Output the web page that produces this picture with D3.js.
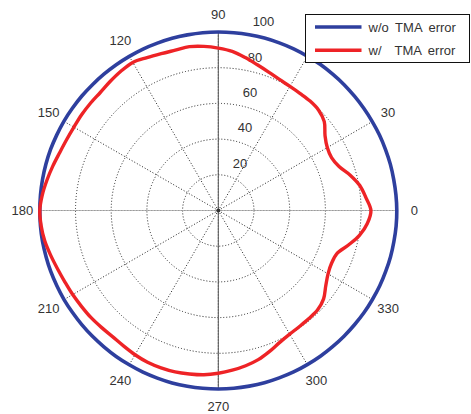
<!DOCTYPE html>
<html>
<head>
<meta charset="utf-8">
<script src="https://cdn.jsdelivr.net/npm/d3@7"></script>
<style>
body { margin: 0; background: #fff; }
text { font-family: "Liberation Sans", Arial, sans-serif; fill: #333; }
</style>
</head>
<body>
<div id="chart"></div>
<script>
// angles in degrees (counter-clockwise from east)
var angles = [0, 5, 10, 15, 20, 25, 30, 35, 40, 45, 50, 55, 60, 65, 70, 75, 80, 85,
    90, 95, 100, 105, 110, 115, 120, 125, 130, 135, 140, 145, 150, 155, 160, 165, 170, 175,
    180, 185, 190, 195, 200, 205, 210, 215, 220, 225, 230, 235, 240, 245, 250, 255, 260, 265,
    270, 275, 280, 285, 290, 295, 300, 305, 310, 315, 320, 325, 330, 335, 340, 345, 350, 355];

var withoutError = [100, 99.9, 99.8, 99.8, 99.7, 99.7, 99.6, 99.6, 99.6, 99.7, 99.7, 99.8, 99.8, 99.9, 99.9, 100, 100, 100,
    100, 100, 99.9, 99.9, 99.8, 99.8, 99.7, 99.7, 99.7, 99.7, 99.8, 99.8, 99.9, 99.9, 100, 100, 100, 100,
    100, 100, 100, 99.9, 99.9, 99.8, 99.8, 99.7, 99.7, 99.7, 99.7, 99.8, 99.8, 99.9, 99.9, 100, 100, 100,
    100, 100, 99.9, 99.9, 99.8, 99.8, 99.7, 99.7, 99.6, 99.6, 99.6, 99.7, 99.7, 99.8, 99.8, 99.9, 99.9, 100];

var withError = [85.5, 83, 80.5, 76.5, 72, 70, 70.5, 73, 77.5, 79.5, 80, 80, 80.3, 81, 82.5, 84.5, 87, 89.5,
    91, 92.3, 93.2, 93, 93.5, 94.5, 95.8, 95.2, 94.3, 93.5, 93.5, 93.5, 93.4, 93.8, 94.6, 96, 97.5, 99,
    100, 99.6, 98.7, 97.2, 95.8, 94.8, 94.2, 93.6, 93.2, 92.6, 92.2, 92.6, 93.3, 93.8, 93.8, 93.6, 93, 92.4,
    91.2, 89.8, 88.3, 86.5, 84, 81.5, 80, 79.3, 79, 78.7, 77, 73.5, 71, 70, 70.7, 75.3, 80.3, 83.8];

var ringTicks = [20, 40, 60, 80, 100];
var spokeAngles = [0, 30, 60, 90, 120, 150, 180, 210, 240, 270, 300, 330];
var seriesNames = ["w/o TMA error", "w/  TMA error"];
var seriesColors = ["#2e3f9e", "#ee2326"];

var width = 471, height = 414;
var cx = 218.3, cy = 210.5;

var r = d3.scaleLinear().domain([0, 100]).range([0, 178.5]);
var toRad = function (deg) { return deg * Math.PI / 180; };

var svg = d3.select("#chart")
    .append("svg")
    .attr("width", width)
    .attr("height", height);

var g = svg.append("g")
    .attr("transform", "translate(" + cx + "," + cy + ")");

// dotted rings
g.selectAll(".ring")
    .data(ringTicks.slice(0, 4))
    .enter()
    .append("circle")
    .attr("r", function (d) { return r(d); })
    .attr("fill", "none")
    .attr("stroke", "#222")
    .attr("stroke-width", 1)
    .attr("stroke-dasharray", "1,2");

g.append("circle")
    .attr("r", r(100))
    .attr("fill", "none")
    .attr("stroke", "#444")
    .attr("stroke-width", 1);

// spokes
g.selectAll(".spoke")
    .data(spokeAngles)
    .enter()
    .append("line")
    .attr("x1", 0).attr("y1", 0)
    .attr("x2", function (d) { return r(100) * Math.cos(toRad(d)); })
    .attr("y2", function (d) { return -r(100) * Math.sin(toRad(d)); })
    .attr("stroke", "#222")
    .attr("stroke-width", 1)
    .attr("stroke-dasharray", "1,2");

// solid axis lines
g.append("line")
    .attr("x1", -r(100)).attr("y1", 0).attr("x2", r(100)).attr("y2", 0)
    .attr("stroke", "#aaa").attr("stroke-width", 1.2).attr("opacity", 0.8);
g.append("line")
    .attr("x1", 0).attr("y1", -r(100)).attr("x2", 0).attr("y2", r(100))
    .attr("stroke", "#555").attr("stroke-width", 1);
g.append("circle").attr("r", 2).attr("fill", "#333");

// angle labels
g.selectAll(".alabel")
    .data(spokeAngles)
    .enter()
    .append("text")
    .attr("x", function (d) { return 196 * Math.cos(toRad(d)); })
    .attr("y", function (d) { return -196 * Math.sin(toRad(d)) + 4.5; })
    .attr("text-anchor", "middle")
    .attr("font-size", 13)
    .text(function (d) { return d; });

// radial labels along 82 degrees
g.selectAll(".rlabel")
    .data(ringTicks)
    .enter()
    .append("text")
    .attr("x", function (d) { return r(d) * Math.cos(toRad(82)) + 9.5; })
    .attr("y", function (d) { return -r(d) * Math.sin(toRad(82)) - 12 + 4.5; })
    .attr("text-anchor", "start")
    .attr("font-size", 13)
    .text(function (d) { return d; });

// data curves
var radial = d3.lineRadial()
    .angle(function (d) { return Math.PI / 2 - toRad(d[0]); })
    .radius(function (d) { return r(d[1]); })
    .curve(d3.curveCatmullRomClosed);

[withoutError, withError].forEach(function (vals, i) {
    g.append("path")
        .datum(d3.zip(angles, vals))
        .attr("d", radial)
        .attr("fill", "none")
        .attr("stroke", seriesColors[i])
        .attr("stroke-width", i === 0 ? 3.6 : 3.4)
        .attr("stroke-linejoin", "round");
});

// legend
var legend = svg.append("g").attr("transform", "translate(305.5,14.5)");
legend.append("rect")
    .attr("width", 164).attr("height", 48)
    .attr("fill", "#fff").attr("stroke", "#111").attr("stroke-width", 1);

seriesNames.forEach(function (name, i) {
    var y = 12.5 + i * 23.3;
    legend.append("line")
        .attr("x1", 9.5).attr("x2", 56).attr("y1", y).attr("y2", y)
        .attr("stroke", seriesColors[i]).attr("stroke-width", 3.6);
    legend.append("text")
        .attr("x", 63).attr("y", y + 4.7)
        .attr("font-size", 13)
        .attr("word-spacing", 3)
        .style("white-space", "pre")
        .text(name);
});
</script>
</body>
</html>
